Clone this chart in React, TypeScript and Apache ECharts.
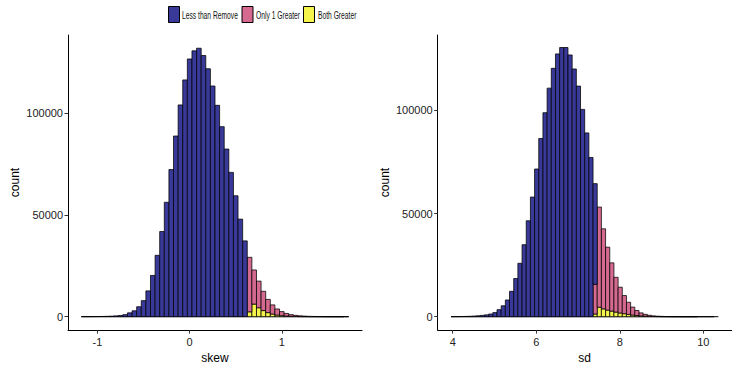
import React, { useEffect, useRef } from "react";
import * as echarts from "echarts";

const legendNames = ["Less than Remove", "Only 1 Greater", "Both Greater"];
const fillColors = ["#39399a", "#d6698f", "#f4f44c"];

// skew histogram: 58 bins of width 0.05 starting at -1.175
const skewBinStart = -1.175;
const skewBinWidth = 0.05;
const skewLess = [
  20, 30, 50, 70, 110, 170, 260, 400, 600, 1000,
  1900, 2900, 4900, 7900, 12700, 20300, 30200, 41900, 56300, 72400,
  88900, 104200, 116500, 126800, 130800, 132100, 128500, 122000, 113500, 104000,
  93500, 82500, 71000, 59500, 48000, 37300,
  0, 0, 0, 0, 0, 0, 0, 0, 0, 0, 0, 0, 0, 0, 0, 0, 0, 0, 0, 0, 0, 0,
];
const skewOne = [
  0, 0, 0, 0, 0, 0, 0, 0, 0, 0, 0, 0, 0, 0, 0, 0, 0, 0, 0, 0,
  0, 0, 0, 0, 0, 0, 0, 0, 0, 0, 0, 0, 0, 0, 0, 0,
  26800, 16800, 13100, 9500, 6500, 4500, 3000, 2000, 1300, 820,
  550, 360, 230, 145, 95, 60, 40, 25, 17, 10, 6, 4,
];
const skewBoth = [
  0, 0, 0, 0, 0, 0, 0, 0, 0, 0, 0, 0, 0, 0, 0, 0, 0, 0, 0, 0,
  0, 0, 0, 0, 0, 0, 0, 0, 0, 0, 0, 0, 0, 0, 0, 0,
  2400, 6200, 4400, 3000, 2000, 1300, 800, 500, 300, 180,
  100, 60, 40, 25, 15, 10, 6, 4, 2, 1, 1, 0,
];

// sd histogram: 64 bins of width 0.1 starting at 3.96
const sdBinStart = 3.96;
const sdBinWidth = 0.1;
const sdLess = [
  30, 50, 80, 130, 200, 300, 450, 650, 900, 1300,
  2000, 3400, 5300, 8100, 12300, 18500, 25900, 34900, 46500, 58000,
  71600, 86400, 98900, 110800, 120400, 127400, 130500, 130500, 126900, 120100,
  111800, 100500, 89100, 77200, 48800,
  0, 0, 0, 0, 0, 0, 0, 0, 0, 0, 0, 0, 0, 0, 0, 0, 0, 0, 0, 0,
  0, 0, 0, 0, 0, 0, 0, 0, 0,
];
const sdOne = [
  0, 0, 0, 0, 0, 0, 0, 0, 0, 0, 0, 0, 0, 0, 0, 0, 0, 0, 0, 0,
  0, 0, 0, 0, 0, 0, 0, 0, 0, 0, 0, 0, 0, 0,
  14400,
  48550, 38800, 30500, 23400, 16850, 12500, 8800, 5900, 3850, 2440,
  1470, 900, 520, 300, 180, 115, 70, 43, 28, 18,
  11, 7, 5, 3, 2, 1, 1, 1, 0,
];
const sdBoth = [
  0, 0, 0, 0, 0, 0, 0, 0, 0, 0, 0, 0, 0, 0, 0, 0, 0, 0, 0, 0,
  0, 0, 0, 0, 0, 0, 0, 0, 0, 0, 0, 0, 0, 0,
  1300,
  4600, 3800, 3200, 2700, 2250, 1800, 1450, 1100, 800, 560,
  380, 250, 160, 100, 60, 35, 20, 12, 7, 4,
  3, 2, 1, 1, 0, 0, 0, 0, 0,
];

const skewTicks = [-1, 0, 1];
const sdTicks = [4, 6, 8, 10];
const countTicks = [0, 50000, 100000];

const FONT = "Liberation Sans, Arial, Helvetica, sans-serif";

// layers bottom-to-top; returns rect data [x0, x1, y0, y1] per layer
function stackRects(start: number, width: number, layers: number[][]) {
  const n = layers[0].length;
  const base = new Array(n).fill(0);
  return layers.map((layer) => {
    const out: number[][] = [];
    for (let i = 0; i < n; i++) {
      const v = layer[i];
      if (v > 0) {
        out.push([start + i * width, start + (i + 1) * width, base[i], base[i] + v]);
        base[i] += v;
      }
    }
    return out;
  });
}

function makeRender(color: string) {
  return (params: any, api: any) => {
    const p0 = api.coord([api.value(0), api.value(3)]);
    const p1 = api.coord([api.value(1), api.value(2)]);
    return {
      type: "rect",
      shape: { x: p0[0], y: p0[1], width: p1[0] - p0[0], height: p1[1] - p0[1] },
      style: { fill: color, stroke: "#000", lineWidth: 0.75 },
    };
  };
}

function axisX(gridIndex: number, min: number, max: number, ticks: number[], name: string) {
  return {
    type: "value",
    gridIndex,
    min,
    max,
    name,
    nameLocation: "middle",
    nameGap: 21,
    nameTextStyle: { fontSize: 12, color: "#000", fontFamily: FONT },
    axisLine: { show: true, onZero: false, lineStyle: { color: "#000", width: 1 } },
    axisTick: { show: true, customValues: ticks, length: 3.5, lineStyle: { color: "#333", width: 1 } },
    axisLabel: {
      customValues: ticks,
      formatter: (v: number) => String(v),
      fontSize: 11,
      color: "#222",
      margin: 6,
      fontFamily: FONT,
    },
    splitLine: { show: false },
  };
}

function axisY(gridIndex: number, min: number, max: number) {
  return {
    type: "value",
    gridIndex,
    min,
    max,
    name: "count",
    nameLocation: "middle",
    nameGap: 47,
    nameTextStyle: { fontSize: 12, color: "#000", fontFamily: FONT },
    axisLine: { show: true, onZero: false, lineStyle: { color: "#000", width: 1 } },
    axisTick: { show: true, customValues: countTicks, length: 3.5, lineStyle: { color: "#333", width: 1 } },
    axisLabel: {
      customValues: countTicks,
      formatter: (v: number) => String(v),
      fontSize: 11,
      color: "#222",
      margin: 5,
      fontFamily: FONT,
    },
    splitLine: { show: false },
  };
}

export default function App() {
  const ref = useRef<HTMLDivElement>(null);

  useEffect(() => {
    if (!ref.current) return;
    const chart = echarts.init(ref.current, undefined, { renderer: "svg" });

    const skewRects = stackRects(skewBinStart, skewBinWidth, [skewBoth, skewOne, skewLess]);
    const sdRects = stackRects(sdBinStart, sdBinWidth, [sdBoth, sdOne, sdLess]);
    const layerColors = [fillColors[2], fillColors[1], fillColors[0]];
    const layerNames = [legendNames[2], legendNames[1], legendNames[0]];

    const series: any[] = [];
    [skewRects, sdRects].forEach((rects, panel) => {
      const start = panel === 0 ? skewBinStart : sdBinStart;
      const width = panel === 0 ? skewBinWidth : sdBinWidth;
      const n = panel === 0 ? skewLess.length : sdLess.length;
      series.push({
        type: "line",
        xAxisIndex: panel,
        yAxisIndex: panel,
        data: [
          [start, 0],
          [start + n * width, 0],
        ],
        symbol: "none",
        silent: true,
        lineStyle: { color: "#000", width: 1 },
        z: 1,
      });
      rects.forEach((data, j) => {
        series.push({
          type: "custom",
          name: layerNames[j],
          xAxisIndex: panel,
          yAxisIndex: panel,
          renderItem: makeRender(layerColors[j]),
          data,
          encode: { x: [0, 1], y: [2, 3] },
          silent: true,
          z: 2,
        });
      });
    });

    const legendX = [168.5, 242, 303.5];
    const legendTextX = [182, 256, 318];
    const graphic: any[] = [];
    legendNames.forEach((nm, i) => {
      graphic.push({
        type: "rect",
        shape: { x: legendX[i], y: 6.5, width: 11, height: 16 },
        style: { fill: fillColors[i], stroke: "#000", lineWidth: 1 },
      });
      graphic.push({
        type: "text",
        x: legendTextX[i],
        y: 15,
        scaleX: 0.64,
        style: {
          text: nm,
          fontSize: 10.5,
          fill: "#111",
          fontFamily: FONT,
          verticalAlign: "middle",
          align: "left",
        },
      });
    });

    chart.setOption({
      animation: false,
      backgroundColor: "#fff",
      grid: [
        { left: 68, top: 35, width: 294, height: 297 },
        { left: 437.7, top: 35, width: 294, height: 297 },
      ],
      xAxis: [axisX(0, -1.32, 1.87, skewTicks, "skew"), axisX(1, 3.64, 10.68, sdTicks, "sd")],
      yAxis: [axisY(0, -6600, 138600), axisY(1, -6500, 136560)],
      graphic,
      series,
    });

    return () => chart.dispose();
  }, []);

  return (
    <div
      ref={ref}
      style={{ position: "fixed", left: 0, top: 0, width: 738, height: 369, background: "#fff" }}
    />
  );
}
